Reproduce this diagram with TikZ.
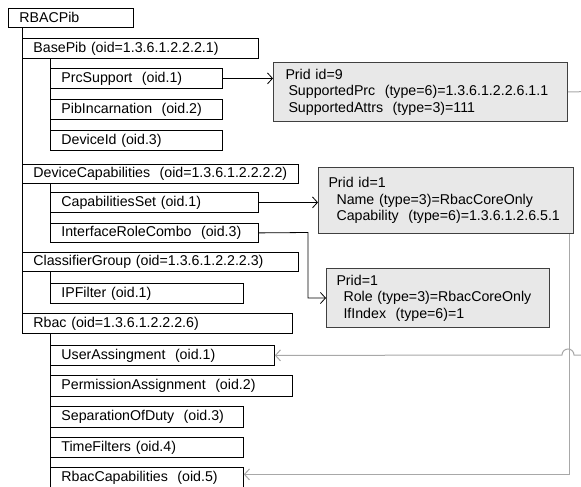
\documentclass[tikz,border=0pt]{standalone}
\usepackage{fontspec}
\setmainfont{Liberation Sans}
\usetikzlibrary{arrows.meta}

\definecolor{infofill}{HTML}{E8E8E8}
\definecolor{infoedge}{HTML}{404040}
\definecolor{linkgrey}{HTML}{A8A8A8}

\begin{document}
\begin{tikzpicture}[x=1pt, y=-1pt,
  font=\fontsize{14.2}{16.5}\selectfont,
  pibbox/.style={draw=black, line width=0.8pt, rectangle, anchor=north west,
    minimum height=20pt, inner xsep=11pt, inner ysep=0pt, align=left},
  infobox/.style={draw=infoedge, fill=infofill, line width=1pt, rectangle,
    anchor=north west, inner xsep=12pt, inner ysep=0pt, align=left},
  tree/.style={draw=black, line width=0.8pt},
  link/.style={draw=black, line width=0.8pt, -{Straight Barb[length=5pt,width=11pt]}},
  greylink/.style={draw=linkgrey, line width=1pt, -{Straight Barb[length=5pt,width=11pt]}}]

\useasboundingbox (0,0) rectangle (581,487);
\clip (0,0) rectangle (581,487);

% PIB tree boxes
\node[pibbox, text width=103pt, minimum height=19pt] (root) at (8,8) {RBACPib};

\node[pibbox, text width=214pt] (base) at (22,38) {BasePib (oid=1.3.6.1.2.2.2.1)};
\node[pibbox, text width=150pt] (prcsup) at (50,68) {PrcSupport\ \ (oid.1)};
\node[pibbox, text width=150pt] (pibinc) at (50,99) {PibIncarnation\ \ (oid.2)};
\node[pibbox, text width=150pt] (devid) at (50,130) {DeviceId (oid.3)};

\node[pibbox, text width=254pt, minimum height=19pt] (devcap) at (22,164) {DeviceCapabilities\ \ (oid=1.3.6.1.2.2.2.2)};
\node[pibbox, text width=186pt] (capset) at (50,192) {CapabilitiesSet (oid.1)};
\node[pibbox, text width=186pt, minimum height=19pt] (ifrole) at (50,223) {InterfaceRoleCombo\ \ (oid.3)};

\node[pibbox, text width=254pt, minimum height=19pt] (clsgrp) at (22,252) {ClassifierGroup (oid=1.3.6.1.2.2.2.3)};
\node[pibbox, text width=171pt] (ipf) at (50,283) {IPFilter (oid.1)};

\node[pibbox, text width=248pt] (rbac) at (22,313) {Rbac (oid=1.3.6.1.2.2.2.6)};
\node[pibbox, text width=202pt] (usrasg) at (50,345) {UserAssingment\ \ (oid.1)};
\node[pibbox, text width=220pt, minimum height=21pt] (prmasg) at (50,375) {PermissionAssignment\ \ (oid.2)};
\node[pibbox, text width=171pt, minimum height=21pt] (sod) at (50,406) {SeparationOfDuty\ \ (oid.3)};
\node[pibbox, text width=171pt] (timef) at (50,437) {TimeFilters (oid.4)};
\node[pibbox, text width=171pt, minimum height=21pt] (rbaccap) at (50,467) {RbacCapabilities\ \ (oid.5)};

% tree trunks
\draw[tree] (rbac.south west |- root.south) -- (rbac.south west);
\draw[tree] (devid.south west |- base.south) -- (devid.south west);
\draw[tree] (ifrole.south west |- devcap.south) -- (ifrole.south west);
\draw[tree] (ipf.south west |- clsgrp.south) -- (ipf.south west);
\draw[tree] (rbaccap.south west |- rbac.south) -- (rbaccap.south west);

% instance boxes
\node[infobox, text width=270pt, minimum height=59pt, inner xsep=12pt] (inst9) at (273,62)
  {Prid id=9\\\hspace{3pt}SupportedPrc\ \ (type=6)=1.3.6.1.2.2.6.1.1\\\hspace{3pt}SupportedAttrs\ \ (type=3)=111};
\node[infobox, text width=235pt, minimum height=66pt, inner xsep=10pt] (inst1a) at (318,167)
  {Prid id=1\\\hspace{8pt}Name (type=3)=RbacCoreOnly\\\hspace{8pt}Capability\ \ (type=6)=1.3.6.1.2.6.5.1};
\node[infobox, text width=203pt, minimum height=59pt, inner xsep=10pt] (inst1b) at (326,268)
  {Prid=1\\\hspace{7pt}Role (type=3)=RbacCoreOnly\\\hspace{7pt}IfIndex\ \ (type=6)=1};

% instance links
\draw[link] (prcsup.east) -- (inst9.west |- prcsup.east);
\draw[link] (capset.east) -- (inst1a.west |- capset.east);
\draw[link] (ifrole.east) -- (308,232.5) |- (inst1b.west);

% references back into the RBAC tables
\coordinate (hopR) at (574,355);
\coordinate (hopL) at (562,355);
\draw[greylink] (inst9.east) -- (590,91.5) -- (590,355) -- (hopR)
  arc[start angle=0, end angle=180, radius=6pt] -- (usrasg.east);
\draw[greylink] ([xshift=-5pt]inst1a.south east) |- ([yshift=3.5pt]rbaccap.east);
\end{tikzpicture}
\end{document}
